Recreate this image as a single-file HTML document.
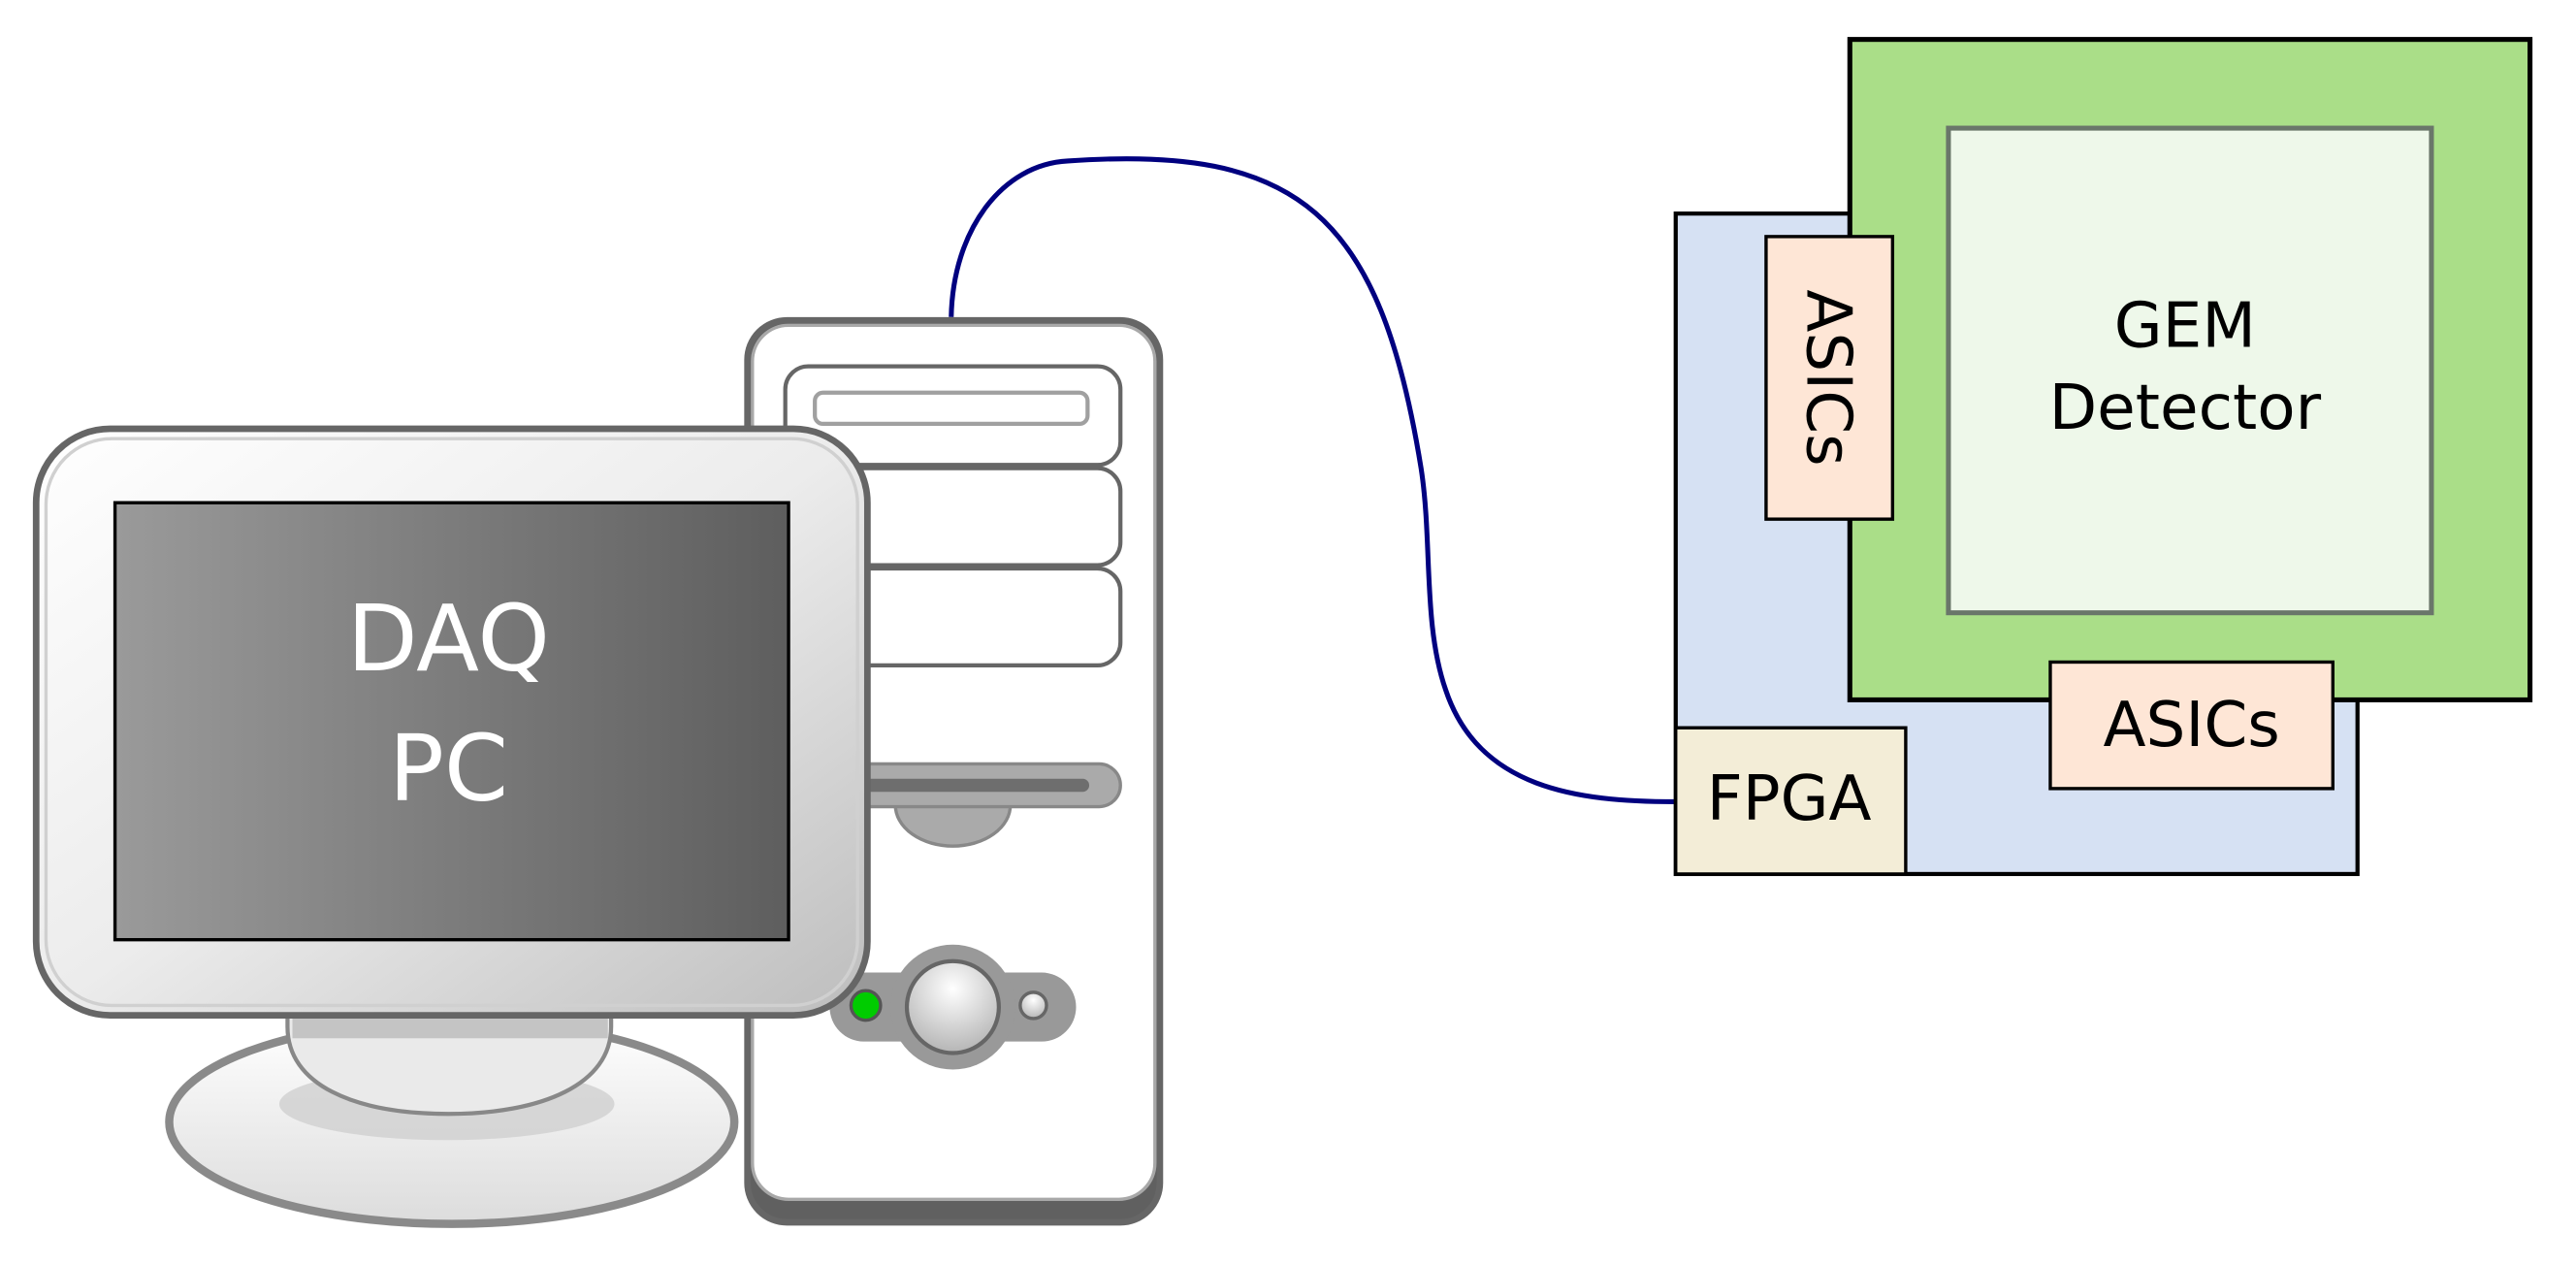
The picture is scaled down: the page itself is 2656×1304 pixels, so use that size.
<!DOCTYPE html>
<html><head><meta charset="utf-8"><style>
html,body{margin:0;padding:0;background:#fff;}
svg{display:block;}
text{font-family:"DejaVu Sans","Liberation Sans",sans-serif;}
</style></head><body>
<svg width="2656" height="1304" viewBox="0 0 1568 770" preserveAspectRatio="none" xmlns="http://www.w3.org/2000/svg">
<defs>
<linearGradient id="scr" x1="0" y1="0" x2="1" y2="0"><stop offset="0" stop-color="#9a9a9a"/><stop offset="1" stop-color="#5e5e5e"/></linearGradient>
<linearGradient id="bez" x1="0" y1="0" x2="1" y2="1"><stop offset="0" stop-color="#ffffff"/><stop offset="0.5" stop-color="#ececec"/><stop offset="1" stop-color="#bdbdbd"/></linearGradient>
<linearGradient id="base" x1="0" y1="0" x2="0" y2="1"><stop offset="0" stop-color="#ffffff"/><stop offset="1" stop-color="#dcdcdc"/></linearGradient>
<radialGradient id="btn" cx="0.5" cy="0.3" r="0.7"><stop offset="0" stop-color="#ffffff"/><stop offset="1" stop-color="#b5b5b5"/></radialGradient>
</defs>
<!-- cable -->
<path d="M579,193 C580,140 610,100 650,98 C790,88 840,130 865,285 C872,330 866,380 880,420 C900,480 960,488 1020,488" fill="none" stroke="#00007f" stroke-width="3"/>
<!-- tower -->
<rect x="455" y="195" width="251" height="549" rx="24" fill="#606060"/>
<rect x="458" y="198" width="245" height="532" rx="22" fill="#fff" stroke="#a8a8a8" stroke-width="2"/>
<rect x="455" y="195" width="251" height="549" rx="24" fill="none" stroke="#666" stroke-width="4"/>
<rect x="478" y="223" width="204" height="60" rx="14" fill="#fff" stroke="#666" stroke-width="2.5"/>
<rect x="496" y="239" width="166" height="19" rx="5" fill="#fff" stroke="#a0a0a0" stroke-width="2.5"/>
<rect x="478" y="285" width="204" height="59" rx="14" fill="#fff" stroke="#666" stroke-width="2.5"/>
<rect x="478" y="346" width="204" height="59" rx="14" fill="#fff" stroke="#666" stroke-width="2.5"/>
<path d="M545,490 A35,25 0 0 0 615,490 Z" fill="#aaa" stroke="#888" stroke-width="2"/>
<rect x="505" y="465" width="177" height="26" rx="13" fill="#aaa" stroke="#888" stroke-width="2"/>
<rect x="515" y="474" width="148" height="8" rx="4" fill="#6e6e6e"/>
<rect x="505" y="592" width="150" height="42" rx="21" fill="#999"/>
<circle cx="580" cy="613" r="38" fill="#999"/>
<circle cx="580" cy="613" r="28" fill="url(#btn)" stroke="#666" stroke-width="2.5"/>
<circle cx="527" cy="612" r="9" fill="#0c0" stroke="#555" stroke-width="2"/>
<circle cx="629" cy="612" r="8" fill="url(#btn)" stroke="#666" stroke-width="2"/>
<!-- monitor base -->
<ellipse cx="275" cy="683" rx="172" ry="62" fill="url(#base)" stroke="#8a8a8a" stroke-width="5"/>
<ellipse cx="272" cy="672" rx="102" ry="22" fill="#d0d0d0" opacity="0.8"/>
<path d="M175,615 L372,615 L372,625 C372,660 330,678 273,678 C215,678 175,660 175,625 Z" fill="#eaeaea" stroke="#888" stroke-width="2.5"/>
<rect x="178" y="618" width="192" height="14" fill="#c4c4c4"/>
<!-- bezel -->
<rect x="22" y="261" width="506" height="357" rx="45" fill="url(#bez)" stroke="#666" stroke-width="4"/>
<rect x="28" y="267" width="494" height="345" rx="40" fill="none" stroke="#d0d0d0" stroke-width="2"/>
<rect x="70" y="306" width="410" height="266" fill="url(#scr)" stroke="#000" stroke-width="2"/>
<text x="273" y="408" font-size="56" fill="#fff" text-anchor="middle">DAQ</text>
<text x="273" y="487" font-size="56" fill="#fff" text-anchor="middle">PC</text>
<!-- right diagram -->
<rect x="1020" y="130" width="415" height="402" fill="#d6e1f3" stroke="#000" stroke-width="2.5"/>
<rect x="1126" y="24" width="414" height="402" fill="#aade88" stroke="#000" stroke-width="3"/>
<rect x="1186" y="78" width="294" height="295" fill="#eef8ea" stroke="#6a766a" stroke-width="3"/>
<text x="1330" y="211" font-size="38" text-anchor="middle">GEM</text>
<text x="1330" y="261" font-size="38" text-anchor="middle">Detector</text>
<rect x="1075" y="144" width="77" height="172" fill="#fee6d6" stroke="#000" stroke-width="2"/>
<text transform="translate(1100,230) rotate(90)" font-size="38" text-anchor="middle">ASICs</text>
<rect x="1248" y="403" width="172" height="77" fill="#fee6d6" stroke="#000" stroke-width="2"/>
<text x="1334" y="454" font-size="38" text-anchor="middle">ASICs</text>
<rect x="1020" y="443" width="140" height="89" fill="#f3edd7" stroke="#000" stroke-width="2"/>
<text x="1089" y="499" font-size="38" text-anchor="middle">FPGA</text>
</svg>
</body></html>
